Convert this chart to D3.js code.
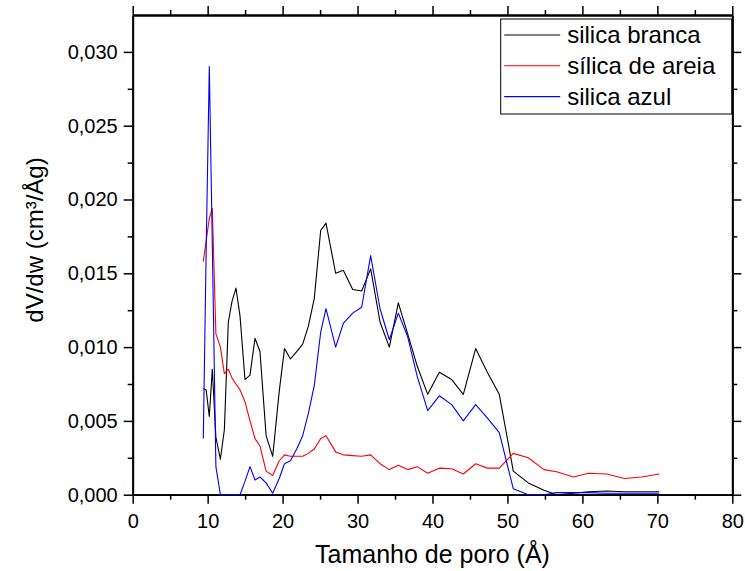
<!DOCTYPE html>
<html>
<head>
<meta charset="utf-8">
<script src="https://cdn.jsdelivr.net/npm/d3@7"></script>
<style>
  body { margin: 0; background: #fff; }
  svg { font-family: "Liberation Sans", Arial, sans-serif; }
</style>
</head>
<body>
<div id="chart"></div>
<script>
// pore size (Å)
const poreSize = [9.42, 9.8, 10.22, 10.62, 11.1, 11.7, 12.23, 12.76, 13.25, 13.78, 14.32, 14.98, 15.65, 16.32, 16.98, 17.8, 18.68, 19.55, 20.25, 21.05, 21.88, 22.68, 23.43, 24.23, 25.08, 25.79, 27.08, 28.1, 29.35, 30.55, 31.75, 33.0, 34.24, 35.44, 36.69, 37.97, 39.36, 40.91, 42.56, 44.11, 45.76, 47.31, 48.91, 50.78, 52.78, 54.88, 56.57, 58.79, 60.8, 63.24, 65.6, 67.9, 70.26];

const silicaBranca = [0.0072, 0.0071, 0.0053, 0.0085, 0.0039, 0.0024, 0.0044, 0.0117, 0.0131, 0.0140, 0.0121, 0.0078, 0.0081, 0.0106, 0.0097, 0.0040, 0.0026, 0.0070, 0.0099, 0.0092, 0.0097, 0.0102, 0.0114, 0.0133, 0.0179, 0.0184, 0.0150, 0.0152, 0.0139, 0.0138, 0.0153, 0.0117, 0.0100, 0.0130, 0.0109, 0.0087, 0.0068, 0.0083, 0.0078, 0.0068, 0.0099, 0.0083, 0.0068, 0.0016, 0.0008, 0.0003, 0.0000, 0.0001, 0.0002, 0.00025, 0.0002, 0.0002, 0.0002];

const silicaAreia = [0.0158, 0.0172, 0.0187, 0.0194, 0.0109, 0.0100, 0.0082, 0.0085, 0.0079, 0.0075, 0.0071, 0.0063, 0.0050, 0.0038, 0.0033, 0.0016, 0.0013, 0.0023, 0.0027, 0.0026, 0.0026, 0.0026, 0.0028, 0.0031, 0.0038, 0.0040, 0.0029, 0.0027, 0.00265, 0.0026, 0.0027, 0.0021, 0.0017, 0.0020, 0.0017, 0.0019, 0.00145, 0.0018, 0.00176, 0.0014, 0.0021, 0.0018, 0.0018, 0.0028, 0.0025, 0.0017, 0.00156, 0.0012, 0.00145, 0.0014, 0.0011, 0.0012, 0.0014];

const silicaAzul = [0.0038, 0.0165, 0.0290, 0.0170, 0.0019, 0.0000, 0.0000, 0.0000, 0.0000, 0.0000, 0.0000, 0.0009, 0.0019, 0.0010, 0.0012, 0.0008, 0.0001, 0.0011, 0.0021, 0.0023, 0.0031, 0.0040, 0.0055, 0.0074, 0.0110, 0.0126, 0.0100, 0.0116, 0.0123, 0.0127, 0.0162, 0.0126, 0.0105, 0.0123, 0.0107, 0.0080, 0.0057, 0.0067, 0.0061, 0.0050, 0.0061, 0.0052, 0.0042, 0.0004, 0.0000, 0.0000, 0.00014, 0.00014, 0.00014, 0.0001, 0.0001, 0.0001, 0.0001];

const seriesNames = ["silica branca", "sílica de areia", "silica azul"];
const seriesColors = ["#000000", "#ff0000", "#0000ff"];
const xTicks = [0, 10, 20, 30, 40, 50, 60, 70, 80];
const yTicks = [0, 0.005, 0.010, 0.015, 0.020, 0.025, 0.030];

const series = [silicaBranca, silicaAreia, silicaAzul].map((vals, i) => ({
  name: seriesNames[i],
  color: seriesColors[i],
  values: vals.map((v, j) => ({x: poreSize[j], y: v}))
}));

// dimensions
const W = 745, H = 571;
const margin = {top: 15, right: 12.7, bottom: 76.3, left: 132.7},
    width = W - margin.left - margin.right,
    height = H - margin.top - margin.bottom;

const svg = d3.select("#chart")
  .append("svg")
    .attr("width", W)
    .attr("height", H)
  .append("g")
    .attr("transform", `translate(${margin.left},${margin.top})`);

const x = d3.scaleLinear().domain([0, 80]).range([0, width]);
const y = d3.scaleLinear().domain([0, 0.0325]).range([height, 0]);

const comma = d => d3.format(".3f")(d).replace(".", ",");

// minor ticks
const xMinor = d3.range(5, 80, 10);
const yMinor = d3.range(0.0025, 0.0325, 0.005);

function styleAxis(g) {
  g.selectAll("path.domain").attr("stroke", "#000").attr("stroke-width", 1.8);
  g.selectAll(".tick line").attr("stroke", "#000").attr("stroke-width", 1.5);
  g.selectAll(".tick text").attr("fill", "#000").attr("font-size", 20)
    .attr("font-family", "Liberation Sans, Arial, sans-serif");
}

// bottom
svg.append("g")
  .attr("transform", `translate(0,${height})`)
  .call(d3.axisBottom(x).tickValues(xTicks).tickSize(9).tickPadding(10).tickSizeOuter(0))
  .call(styleAxis);
svg.append("g")
  .attr("transform", `translate(0,${height})`)
  .call(d3.axisBottom(x).tickValues(xMinor).tickSize(5).tickFormat("").tickSizeOuter(0))
  .call(styleAxis);

// top
svg.append("g")
  .call(d3.axisTop(x).tickValues(xTicks).tickSize(9).tickFormat("").tickSizeOuter(0))
  .call(styleAxis);
svg.append("g")
  .call(d3.axisTop(x).tickValues(xMinor).tickSize(5).tickFormat("").tickSizeOuter(0))
  .call(styleAxis);

// left
svg.append("g")
  .call(d3.axisLeft(y).tickValues(yTicks).tickSize(9).tickPadding(6).tickFormat(comma).tickSizeOuter(0))
  .call(styleAxis);
svg.append("g")
  .call(d3.axisLeft(y).tickValues(yMinor).tickSize(5).tickFormat("").tickSizeOuter(0))
  .call(styleAxis);

// right
svg.append("g")
  .attr("transform", `translate(${width},0)`)
  .call(d3.axisRight(y).tickValues(yTicks).tickSize(9).tickFormat("").tickSizeOuter(0))
  .call(styleAxis);
svg.append("g")
  .attr("transform", `translate(${width},0)`)
  .call(d3.axisRight(y).tickValues(yMinor).tickSize(5).tickFormat("").tickSizeOuter(0))
  .call(styleAxis);

// lines
const line = d3.line().x(d => x(d.x)).y(d => y(d.y));
svg.selectAll(".series")
  .data(series)
  .join("path")
    .attr("class", "series")
    .attr("fill", "none")
    .attr("stroke", d => d.color)
    .attr("stroke-width", 1.1)
    .attr("stroke-linejoin", "round")
    .attr("d", d => line(d.values));

// axis titles
svg.append("text")
  .attr("x", width / 2)
  .attr("y", height + 68)
  .attr("text-anchor", "middle")
  .attr("font-size", 25)
  .text("Tamanho de poro (Å)");

svg.append("text")
  .attr("transform", `translate(${35 - margin.left + 8},${225})rotate(-90)`)
  .attr("text-anchor", "middle")
  .attr("font-size", 24)
  .text("dV/dw (cm³/Åg)");

// legend
const legend = svg.append("g")
  .attr("transform", `translate(${500.7 - margin.left},${19 - margin.top})`);
legend.append("rect")
  .attr("width", 231)
  .attr("height", 95)
  .attr("fill", "#fff")
  .attr("stroke", "#000")
  .attr("stroke-width", 1);
series.forEach((s, i) => {
  const ly = 16 + i * 30.8;
  legend.append("line")
    .attr("x1", 3.5).attr("x2", 59.5)
    .attr("y1", ly).attr("y2", ly)
    .attr("stroke", s.color)
    .attr("stroke-width", 1.1);
  legend.append("text")
    .attr("x", 66.5)
    .attr("y", ly + 8)
    .attr("font-size", 24)
    .text(s.name);
});
</script>
</body>
</html>
